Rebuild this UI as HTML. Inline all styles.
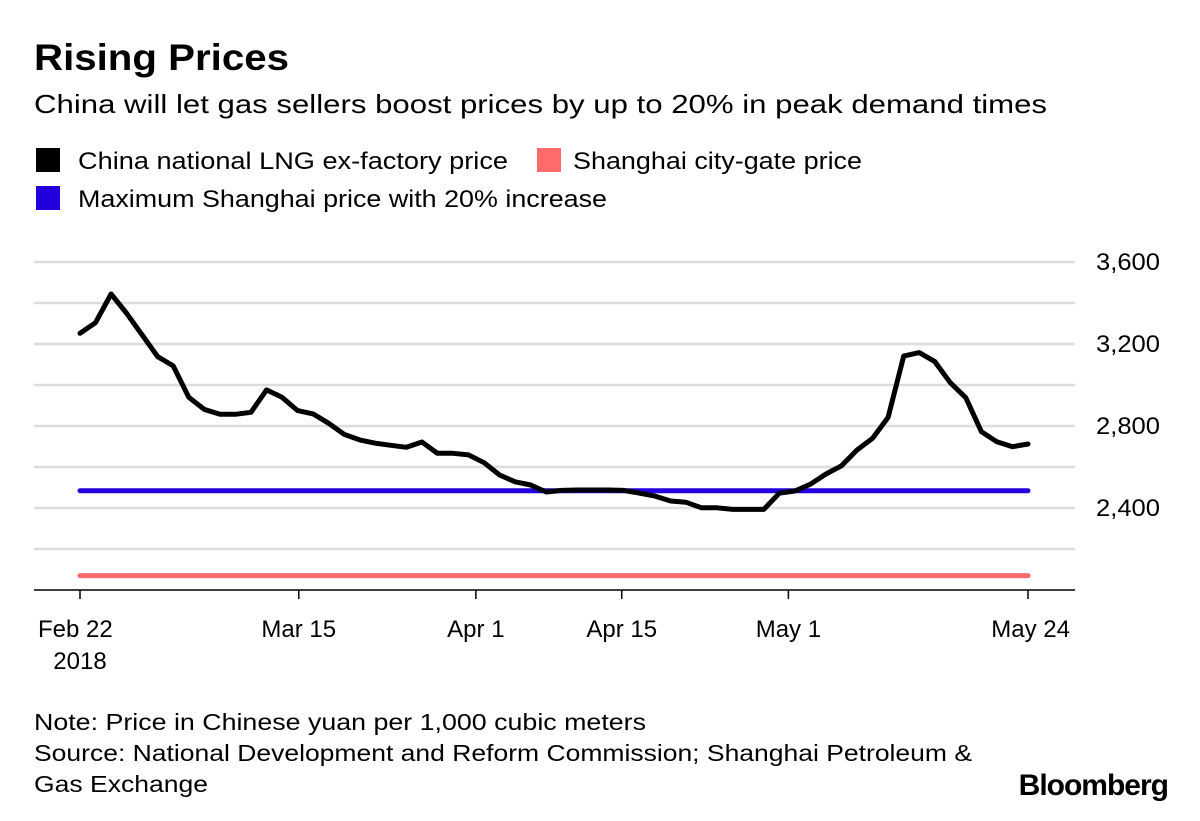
<!DOCTYPE html>
<html><head><meta charset="utf-8"><style>
body{margin:0;background:#fff;width:1200px;height:816px;overflow:hidden;font-family:"Liberation Sans",sans-serif;}
svg text{font-family:"Liberation Sans",sans-serif;}
</style></head><body>
<svg id="chart" width="1200" height="816" xmlns="http://www.w3.org/2000/svg">
<text x="34" y="70" font-size="37" font-weight="bold" fill="#000" textLength="255" lengthAdjust="spacingAndGlyphs">Rising Prices</text>
<text x="34" y="113" font-size="26" fill="#000" textLength="1013" lengthAdjust="spacingAndGlyphs">China will let gas sellers boost prices by up to 20% in peak demand times</text>
<g font-size="24">
<g><rect x="36" y="148" width="24" height="24" fill="#000"/><text x="78" y="169" textLength="430" lengthAdjust="spacingAndGlyphs">China national LNG ex-factory price</text></g>
<g><rect x="537" y="148" width="24" height="24" fill="#ff6b6b"/><text x="573" y="169" textLength="289" lengthAdjust="spacingAndGlyphs">Shanghai city-gate price</text></g>
<g><rect x="36" y="186" width="24" height="24" fill="#2200dd"/><text x="78" y="207" textLength="529" lengthAdjust="spacingAndGlyphs">Maximum Shanghai price with 20% increase</text></g>
</g>
<g id="grid"></g>
<g id="yticks" font-size="24"></g>
<g id="xticks" font-size="24"></g>
<g id="series"></g>
<text x="34" y="730" font-size="23" textLength="612" lengthAdjust="spacingAndGlyphs">Note: Price in Chinese yuan per 1,000 cubic meters</text>
<text x="34" y="761" font-size="23" textLength="938" lengthAdjust="spacingAndGlyphs">Source: National Development and Reform Commission; Shanghai Petroleum &amp;</text>
<text x="34" y="792" font-size="23" textLength="174" lengthAdjust="spacingAndGlyphs">Gas Exchange</text>
<text x="1168" y="795" font-size="30" font-weight="bold" text-anchor="end" letter-spacing="-1">Bloomberg</text>
</svg>
<script>
const lngValues=[3252,3304,3444,3350,3244,3138,3093,2940,2881,2857,2857,2867,2976,2940,2875,2859,2813,2759,2732,2716,2706,2696,2722,2667,2667,2659,2621,2561,2528,2512,2478,
2486,2488,2488,2488,2486,2472,2458,2434,2428,2401,2401,2393,2393,2393,2472,2483,2516,2566,2606,2683,2740,2842,3141,3158,3114,3011,2938,2772,2723,2699,2712];
const cityGate=2070;
const maxPrice=2484;
const yTicks=[2000,2200,2400,2600,2800,3000,3200,3400,3600];
const yLabels=["","","2,400","","2,800","","3,200","","3,600"];
const xTickDays=[0,21,38,52,68,91];
const xTickLabels=["Feb 22","Mar 15","Apr 1","Apr 15","May 1","May 24"];
const totalDays=91;
const NS="http://www.w3.org/2000/svg";
const X0=80,X1=1028,YB=590,PPV=82/400;
const y=v=>YB-(v-2000)*PPV;
const xd=d=>X0+(X1-X0)*d/totalDays;
const xi=i=>X0+(X1-X0)*i/(lngValues.length-1);
function mk(tag,attrs,parent){const e=document.createElementNS(NS,tag);for(const k in attrs)e.setAttribute(k,attrs[k]);document.getElementById(parent).appendChild(e);return e;}
yTicks.forEach((v,i)=>{
 const l=mk('line',{x1:34,x2:1075,y1:y(v),y2:y(v),stroke:i===0?'#000':'#ddd','stroke-width':i===0?1.5:2.5},'grid');
 
 
 if(yLabels[i]){const t=mk('text',{x:1096,y:y(v)+8,textLength:64,lengthAdjust:'spacingAndGlyphs'},'yticks');t.textContent=yLabels[i];
 
 }
});
xTickDays.forEach((d,i)=>{
 const l=mk('line',{x1:xd(d),x2:xd(d),y1:YB,y2:YB+9,stroke:'#000','stroke-width':1.5},'xticks');
 
 
 const t=mk('text',{x:xd(d),y:637,'text-anchor':'middle'},'xticks');t.textContent=xTickLabels[i];
 
 
 if(i===xTickDays.length-1){t.setAttribute('text-anchor','end');t.setAttribute('x',1070);}
 if(i===0){t.setAttribute('text-anchor','start');t.setAttribute('x',38);}
});
const yr=mk('text',{x:xd(0),y:669,'text-anchor':'middle'},'xticks');yr.textContent='2018';


const cg=mk('line',{x1:X0,x2:X1,y1:y(cityGate),y2:y(cityGate),stroke:'#ff6b6b','stroke-width':5,'stroke-linecap':'round'},'series');


const mp=mk('line',{x1:X0,x2:X1,y1:y(maxPrice),y2:y(maxPrice),stroke:'#2200dd','stroke-width':5,'stroke-linecap':'round'},'series');


const pts=lngValues.map((v,i)=>xi(i).toFixed(1)+','+y(v).toFixed(1)).join(' ');
const pl=mk('polyline',{points:pts,fill:'none',stroke:'#000','stroke-width':5,'stroke-linejoin':'round','stroke-linecap':'round'},'series');


</script>
</body></html>
